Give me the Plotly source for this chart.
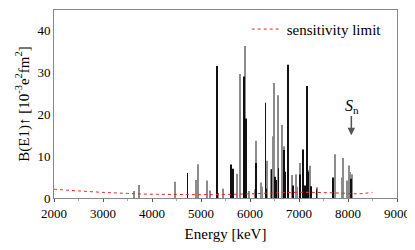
import plotly.graph_objects as go

# gray (experimental, wider) bars
gray_E = [3633, 3735, 4476, 4891, 4932, 5129, 5190, 5350, 5456, 5630, 5735, 5803, 5891, 5980,
          6102, 6122, 6231, 6255, 6354, 6435, 6463, 6497, 6565, 6660, 6687, 6864, 6939, 6960,
          7020, 7075, 7211, 7231, 7370, 7728, 7878, 7905, 7987, 8014, 8048, 8089]
gray_B = [1.7, 3.1, 3.9, 4.3, 8.1, 4.2, 1.8, 1.2, 2.2, 3.4, 5.8, 29.7, 36.4, 1.7,
          2.1, 13.7, 3.7, 2.7, 8.9, 6.9, 14.8, 27.5, 24.6, 17.5, 12.4, 5.5, 5.7, 2.7,
          8.4, 5.3, 6.7, 7.7, 2.6, 10.5, 4.9, 9.6, 4.2, 7.8, 6.2, 5.7]

# black (narrow) bars
black_E = [4721, 5327, 5612, 5653, 5878, 5918, 6122, 6313, 6325, 6440, 6510, 6530, 6580,
           6695, 6705, 6725, 6776, 6790, 6880, 7025, 7082, 7120, 7163, 7190, 7245, 7354,
           7694, 8060]
black_B = [6.0, 31.6, 8.0, 7.0, 29.1, 19.0, 8.4, 22.8, 2.3, 6.9, 5.1, 4.3, 7.1,
           11.5, 11.2, 6.3, 31.9, 4.7, 3.0, 5.6, 11.6, 3.0, 26.8, 6.3, 2.8, 2.1,
           4.9, 4.6]

# sensitivity limit
sens_E = [2000, 2500, 3000, 3500, 4000, 4500, 5000, 5500, 6000, 6500, 7000, 7500, 8000, 8200, 8500]
sens_B = [2.1, 1.7, 1.35, 1.1, 0.9, 0.85, 0.8, 0.85, 1.0, 1.2, 1.35, 1.3, 1.1, 1.0, 1.35]

xticks = [2000, 3000, 4000, 5000, 6000, 7000, 8000, 9000]
yticks = [0, 10, 20, 30, 40]

serif = "Liberation Serif, Times New Roman, serif"

fig = go.Figure()
fig.add_trace(go.Bar(x=gray_E, y=gray_B, width=[20] * len(gray_E),
                     marker=dict(color="#8c8c8c", line=dict(width=0)), showlegend=False))
fig.add_trace(go.Bar(x=black_E, y=black_B, width=[11] * len(black_E),
                     marker=dict(color="#111111", line=dict(width=0)), showlegend=False))
fig.add_trace(go.Scatter(x=sens_E, y=sens_B, mode="lines", name="sensitivity limit",
                         line=dict(color="#ff2020", width=1, dash="dot", shape="spline")))

fig.add_annotation(x=8068, y=15.0, ax=8068, ay=20.0, xref="x", yref="y", axref="x", ayref="y",
                   text="", showarrow=True, arrowhead=2, arrowsize=1, arrowwidth=1.5,
                   arrowcolor="#555555")
fig.add_annotation(x=8085, y=21.8, xref="x", yref="y", showarrow=False,
                   text="<i>S</i><sub>n</sub>", font=dict(family=serif, size=16, color="black"))

# page body has an 8px default margin; compensate so the plot box lands at the reference spot
fig.update_layout(
    width=407, height=242,
    margin=dict(l=46, r=18, t=2, b=52, autoexpand=False),
    paper_bgcolor="white", plot_bgcolor="white",
    barmode="overlay",
    font=dict(family=serif, size=13, color="black"),
    legend=dict(x=0.97, y=0.985, xanchor="right", yanchor="top", bgcolor="rgba(0,0,0,0)",
                font=dict(family=serif, size=15), itemwidth=30),
)
fig.update_xaxes(range=[2000, 9000], tickvals=xticks, ticks="outside", ticklen=3,
                 tickcolor="#555", showline=True, linecolor="#888", linewidth=1, mirror=True,
                 showgrid=False, zeroline=False, automargin=False,
                 minor=dict(tickvals=[2500, 3500, 4500, 5500, 6500, 7500, 8500], ticks="outside",
                            ticklen=2, tickcolor="#aaa"),
                 title=dict(text="Energy [keV]", font=dict(family=serif, size=15), standoff=8),
                 tickfont=dict(family=serif, size=13))
fig.update_yaxes(range=[0, 45], tickvals=yticks, ticks="", showline=True, linecolor="#888",
                 linewidth=1, mirror=True, showgrid=False, zeroline=False, automargin=False,
                 title=dict(text="B(E1)↑ [10<sup>-3</sup>e<sup>2</sup>fm<sup>2</sup>]",
                            font=dict(family=serif, size=15), standoff=4),
                 tickfont=dict(family=serif, size=13))

fig.write_html("out.html")
